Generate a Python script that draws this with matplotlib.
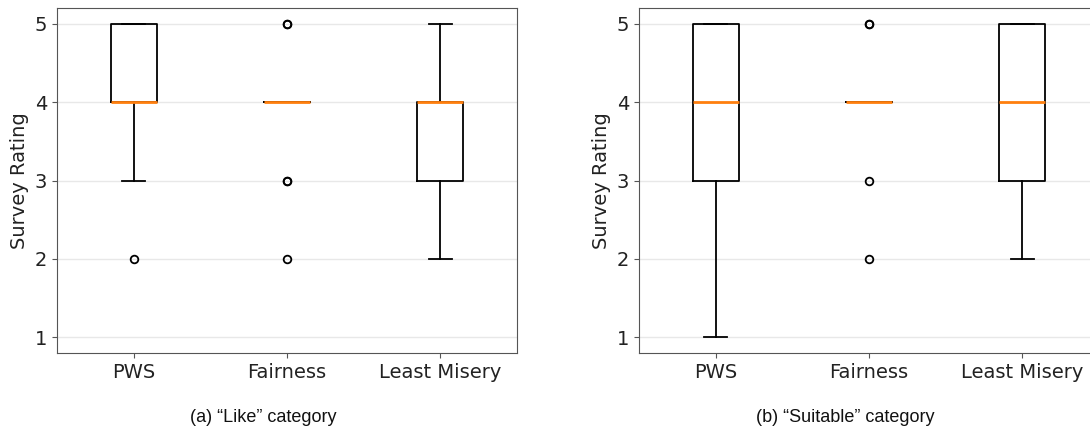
import numpy as np
import matplotlib.pyplot as plt

# number of answers per rating level (1..5) for each method
levels = [1, 2, 3, 4, 5]
methods = ["PWS", "Fairness", "Least Misery"]

like_pws = [0, 1, 2, 11, 6]
like_fairness = [0, 1, 2, 15, 2]
like_least_misery = [0, 2, 6, 10, 2]

suit_pws = [1, 2, 5, 6, 6]
suit_fairness = [0, 1, 1, 16, 2]
suit_least_misery = [0, 2, 6, 6, 6]

captions = ["(a) \u201cLike\u201d category", "(b) \u201cSuitable\u201d category"]


def expand(counts):
    return np.repeat(levels, counts)


panels = [
    [like_pws, like_fairness, like_least_misery],
    [suit_pws, suit_fairness, suit_least_misery],
]

fig = plt.figure(figsize=(10.9, 4.32), dpi=100)
lefts = [57 / 1090, 639 / 1090]

for left, counts, cap in zip(lefts, panels, captions):
    ax = fig.add_axes([left, 79 / 432, 460 / 1090, 345 / 432])
    ax.boxplot([expand(c) for c in counts], widths=0.3,
               boxprops=dict(linewidth=1.3),
               whiskerprops=dict(linewidth=1.3),
               capprops=dict(linewidth=1.3),
               medianprops=dict(color="#ff7f0e", linewidth=2),
               flierprops=dict(marker="o", markersize=5.5,
                               markerfacecolor="none", markeredgewidth=1.3))
    ax.set_xticks([1, 2, 3])
    ax.set_xticklabels(methods)
    ax.set_ylim(0.8, 5.2)
    ax.set_yticks([1, 2, 3, 4, 5])
    ax.yaxis.grid(True, color="#e8e8e8", linewidth=1)
    ax.set_axisbelow(True)
    ax.tick_params(labelsize=14, colors="#222222")
    ax.tick_params(axis="both", color="#555555")
    ax.set_ylabel("Survey Rating", fontsize=14, color="#222222")
    for s in ax.spines.values():
        s.set_color("#555555")
    fig.text(left + 206 / 1090, 0.033, cap, ha="center", va="center",
             fontsize=13, family="Liberation Sans", color="#111111")

fig.savefig("out.png", dpi=100)
